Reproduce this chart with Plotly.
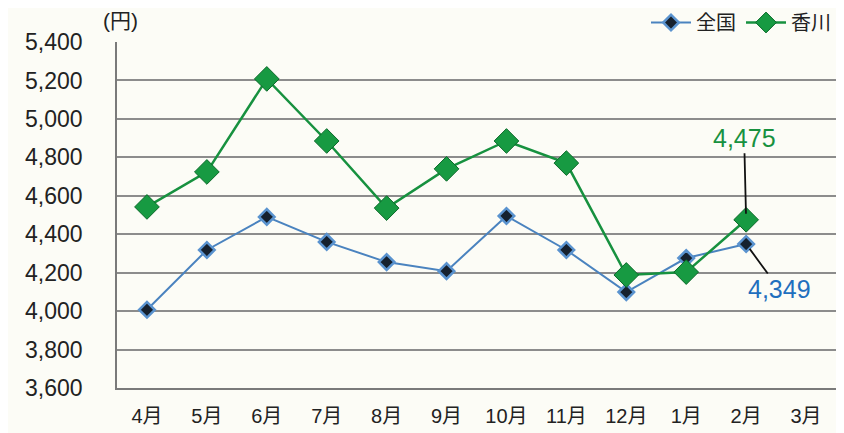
import plotly.graph_objects as go

months = ["4月", "5月", "6月", "7月", "8月", "9月", "10月", "11月", "12月", "1月", "2月", "3月"]
zenkoku = [4007, 4318, 4490, 4360, 4255, 4208, 4495, 4318, 4099, 4276, 4349, None]
kagawa = [4542, 4724, 5208, 4885, 4536, 4740, 4885, 4770, 4188, 4203, 4475, None]
y_ticks = [3600, 3800, 4000, 4200, 4400, 4600, 4800, 5000, 5200, 5400]
y_ticklabels = ["3,600", "3,800", "4,000", "4,200", "4,400", "4,600", "4,800", "5,000", "5,200", "5,400"]

FONT = "Liberation Sans, Arial, Noto Sans CJK JP, sans-serif"
BLUE = "#4a83bf"
GREEN = "#17913f"

fig = go.Figure()
fig.add_trace(go.Scatter(
    x=months, y=zenkoku, name="全国", mode="lines+markers",
    line=dict(color=BLUE, width=2),
    marker=dict(symbol="diamond", size=12, color="#16212e",
                line=dict(color="#5a93cf", width=2.5)),
))
fig.add_trace(go.Scatter(
    x=months, y=kagawa, name="香川", mode="lines+markers",
    line=dict(color=GREEN, width=2.5),
    marker=dict(symbol="diamond", size=19, color="#179a42",
                line=dict(color="#0c6a2a", width=1)),
))

fig.add_annotation(x="2月", y=kagawa[10], text="4,475", showarrow=True,
                   arrowhead=0, arrowwidth=1.8, arrowcolor="#111111",
                   ax=-2, ay=-82, standoff=6,
                   font=dict(family=FONT, size=25, color="#17913f"))
fig.add_annotation(x="2月", y=zenkoku[10], text="4,349", showarrow=True,
                   arrowhead=0, arrowwidth=1.8, arrowcolor="#111111",
                   ax=33, ay=45, standoff=6,
                   font=dict(family=FONT, size=25, color="#1f6fbe"))
fig.add_annotation(xref="paper", yref="paper", x=0.0, y=1.0, yshift=22, xshift=-16,
                   xanchor="left", yanchor="middle", text="(円)", showarrow=False,
                   font=dict(family=FONT, size=21, color="#222222"))

fig.update_layout(
    width=828, height=425,
    margin=dict(l=109, r=0, t=34, b=45, autoexpand=False),
    paper_bgcolor="#fcfcf6", plot_bgcolor="#fcfcf6",
    font=dict(family=FONT, color="#222222"),
    showlegend=True,
    legend=dict(orientation="h", x=1.0, xanchor="right", y=1.0, yanchor="bottom",
                xref="paper", yref="paper",
                font=dict(family=FONT, size=20, color="#222222"),
                bgcolor="rgba(0,0,0,0)", traceorder="normal",
                itemsizing="trace", itemwidth=40),
)
fig.update_xaxes(
    type="category", categoryarray=months, range=[-0.5, 11.5], automargin=False,
    showgrid=False, showline=True, linecolor="#7a7a7a", linewidth=1.5,
    ticks="", ticklabelstandoff=9,
    tickfont=dict(family=FONT, size=20, color="#222222"),
)
fig.update_yaxes(
    range=[3600, 5400], tickvals=y_ticks, ticktext=y_ticklabels, automargin=False,
    showgrid=True, gridcolor="#8c8c8c", gridwidth=2,
    showline=True, linecolor="#7a7a7a", linewidth=1.5,
    zeroline=False, ticks="", ticklabelstandoff=28,
    tickfont=dict(family=FONT, size=23, color="#222222"),
)

fig.write_html("out.html")
